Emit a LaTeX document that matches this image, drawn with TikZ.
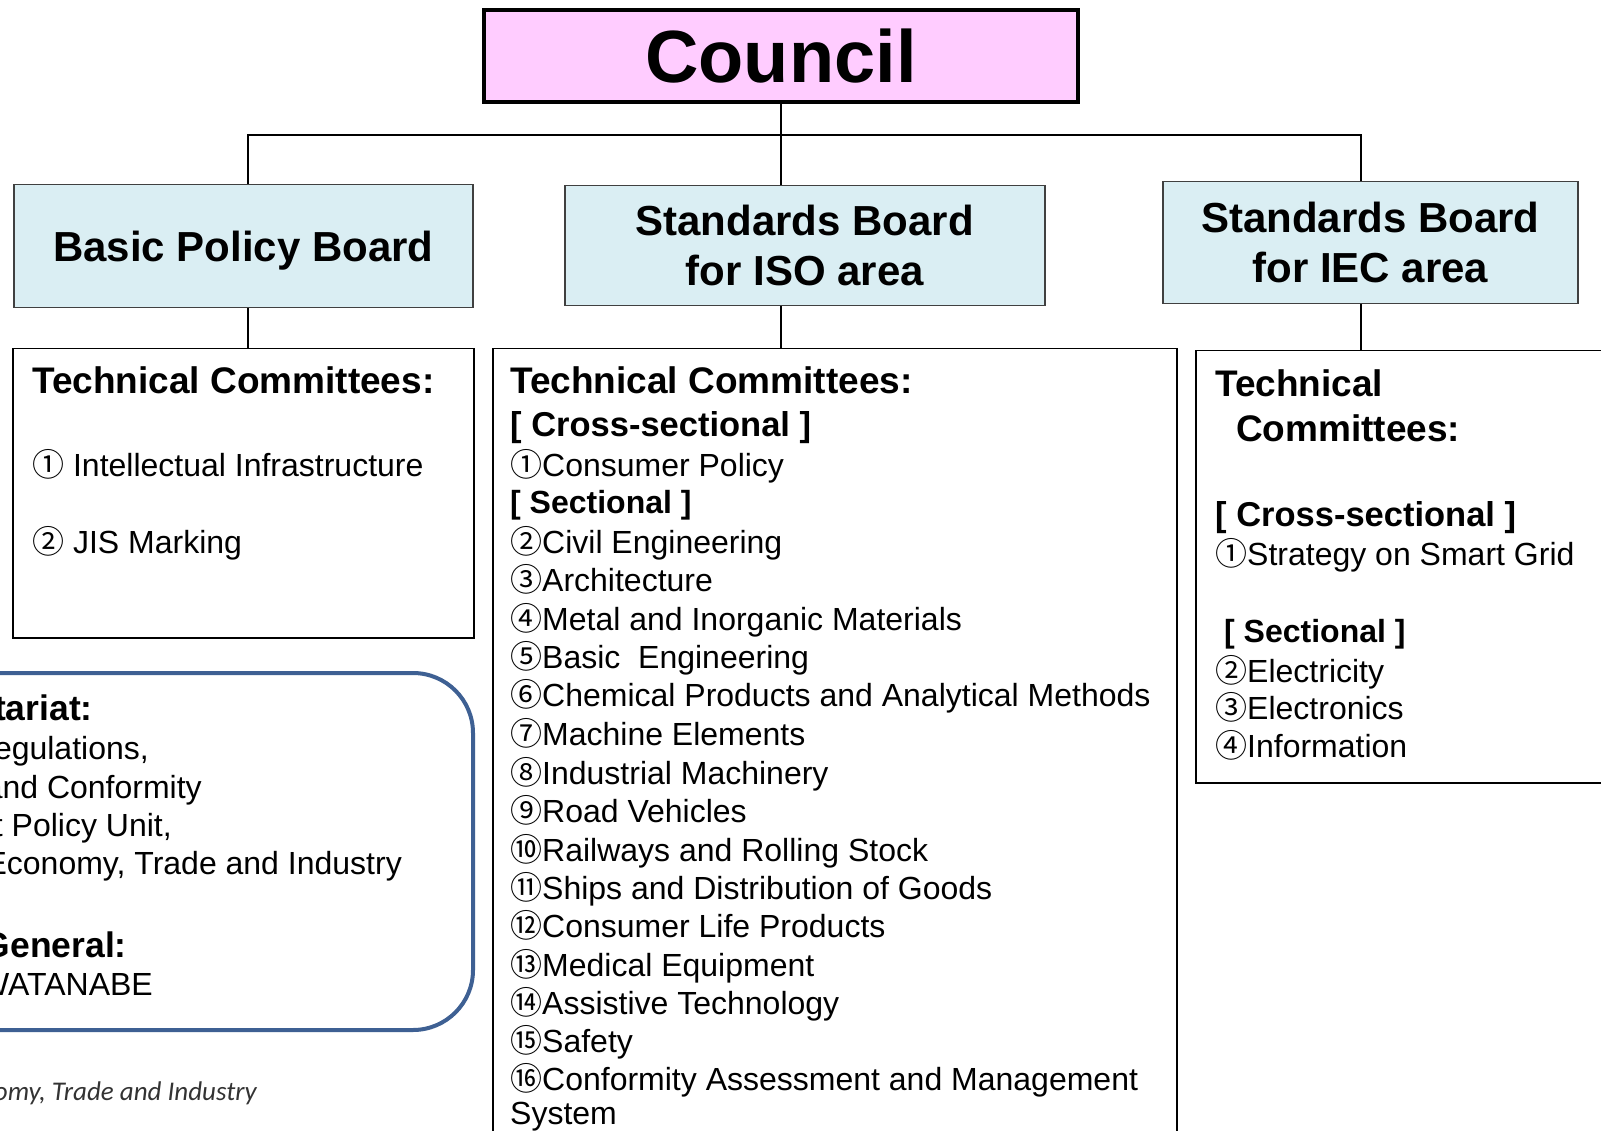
\documentclass[tikz,border=0pt]{standalone}
\usepackage{xcolor}
\usepackage{fontspec}
\setmainfont{Liberation Sans}
\newfontfamily\cjk{Noto Sans CJK JP}
\newfontfamily\logofont{Carlito}
\usepackage{tikz}

\definecolor{councilpink}{HTML}{FFCCFF}
\definecolor{boardblue}{HTML}{DAEEF3}
\definecolor{secblue}{HTML}{3E6093}
\definecolor{footgray}{HTML}{333333}
\newcommand{\circnum}[1]{{\cjk #1}}

\begin{document}
\begin{tikzpicture}[
	x=1pt,y=-1pt,
	board/.style={rectangle,anchor=north west,inner sep=0pt,draw=black!75,line width=1.5pt,fill=boardblue,align=center,font=\bfseries\fontsize{42}{50}\selectfont},
	tcbox/.style={rectangle,anchor=north west,inner sep=0pt,draw=black,line width=1.5pt},
	head/.style={anchor=base west,inner sep=0pt,font=\bfseries\fontsize{37}{44}\selectfont},
	sub/.style={anchor=base west,inner sep=0pt,font=\bfseries\fontsize{34.5}{41}\selectfont},
	subsmall/.style={anchor=base west,inner sep=0pt,font=\bfseries\fontsize{32}{38}\selectfont},
	item/.style={anchor=base west,inner sep=0pt,font=\fontsize{32}{38}\selectfont},
	secitem/.style={anchor=base east,inner sep=0pt,font=\fontsize{32}{38}\selectfont},
	sechead/.style={anchor=base east,inner sep=0pt,font=\bfseries\fontsize{35.5}{42}\selectfont},
	link/.style={line width=1.5pt}
]
	\useasboundingbox (0,0) rectangle (1601,1131);
	\clip (0,0) rectangle (1601,1131);
	\fill[white] (0,0) rectangle (1601,1131);

	\node[rectangle,anchor=north west,inner sep=0pt,minimum width=594pt,minimum height=92pt,draw=black,line width=4pt,fill=councilpink,font=\bfseries\fontsize{74}{80}\selectfont] (council) at (482,8) {Council};

	\node[board,minimum width=459pt,minimum height=123pt,text depth=0pt] (basic) at (13,184) {Basic Policy Board};
	\node[board,minimum width=480pt,minimum height=120pt] (iso) at (564,185) {Standards Board\\for ISO area};
	\node[board,minimum width=415pt,minimum height=122pt] (iec) at (1162,181) {Standards Board\\for IEC area};

	\node[tcbox,minimum width=461pt,minimum height=289pt] (tcbasic) at (12,348) {};
	\node[tcbox,minimum width=684pt,minimum height=830pt] (tciso) at (492,348) {};
	\node[tcbox,minimum width=470pt,minimum height=432pt] (tciec) at (1195,350) {};

	\coordinate (busL) at (248,135);
	\coordinate (busR) at (1361,135);
	\draw[link] (council.south) -- (iso.north -| council.south);
	\draw[link] (basic.north -| busL) -- (busL) -- (busR) -- (iec.north -| busR);
	\draw[link] (basic.south -| busL) -- (tcbasic.north -| busL);
	\draw[link] (iso.south -| council.south) -- (tciso.north -| council.south);
	\draw[link] (iec.south -| busR) -- (tciec.north -| busR);

	\node[head] (basictitle) at (32,394) {Technical Committees:};
	\node[item] (basicone) at (32,476) {\circnum{①} Intellectual Infrastructure};
	\node[item] (basictwo) at (32,553) {\circnum{②} JIS Marking};

	\node[head] (isotitle) at (510,394) {Technical Committees:};
	\node[sub] (isocross) at (510,436) {[ Cross-sectional ]};
	\node[item] (isoone) at (510,476) {\circnum{①}Consumer Policy};
	\node[subsmall] (isosect) at (510,513) {[ Sectional ]};
	\node[item] (isotwo) at (510,553) {\circnum{②}Civil Engineering};
	\node[item] (isothree) at (510,591) {\circnum{③}Architecture};
	\node[item] (isofour) at (510,630) {\circnum{④}Metal and Inorganic Materials};
	\node[item] (isofive) at (510,668) {\circnum{⑤}Basic\ \ Engineering};
	\node[item] (isosix) at (510,706) {\circnum{⑥}Chemical Products and Analytical Methods};
	\node[item] (isoseven) at (510,745) {\circnum{⑦}Machine Elements};
	\node[item] (isoeight) at (510,784) {\circnum{⑧}Industrial Machinery};
	\node[item] (isonine) at (510,822) {\circnum{⑨}Road Vehicles};
	\node[item] (isoten) at (510,861) {\circnum{⑩}Railways and Rolling Stock};
	\node[item] (isoeleven) at (510,899) {\circnum{⑪}Ships and Distribution of Goods};
	\node[item] (isotwelve) at (510,937) {\circnum{⑫}Consumer Life Products};
	\node[item] (isothirteen) at (510,976) {\circnum{⑬}Medical Equipment};
	\node[item] (isofourteen) at (510,1014) {\circnum{⑭}Assistive Technology};
	\node[item] (isofifteen) at (510,1052) {\circnum{⑮}Safety};
	\node[item] (isosixteen) at (510,1090) {\circnum{⑯}Conformity Assessment and Management};
	\node[item] (isosystem) at (510,1124) {System};

	\node[head] (iectitle) at (1215,396) {Technical};
	\node[head] (ieccomm) at (1236,441) {Committees:};
	\node[sub] (ieccross) at (1215,526) {[ Cross-sectional ]};
	\node[item] (iecone) at (1215,565) {\circnum{①}Strategy on Smart Grid};
	\node[subsmall] (iecsect) at (1224,642) {[ Sectional ]};
	\node[item] (iectwo) at (1215,682) {\circnum{②}Electricity};
	\node[item] (iecthree) at (1215,719) {\circnum{③}Electronics};
	\node[item] (iecfour) at (1215,757) {\circnum{④}Information};

	\node[rectangle,anchor=north west,inner sep=0pt,minimum width=551pt,minimum height=357pt,draw=secblue,line width=4pt,rounded corners=60pt] (secr) at (-80,671) {};
	\node[sechead] (sectitle) at (93,720) {tariat:};
	\node[secitem] (secone) at (149,759) {egulations,};
	\node[secitem] (sectwo) at (202,798) {and Conformity};
	\node[secitem] (secthree) at (172,836) {t Policy Unit,};
	\node[secitem] (secfour) at (402,874) {Economy, Trade and Industry};
	\node[sechead] (secgen) at (127,957) {General:};
	\node[secitem] (secname) at (153,995) {WATANABE};

	\node[anchor=base east,inner sep=0pt,text=footgray,font=\logofont\itshape\fontsize{27}{32}\selectfont] (footer) at (257,1100) {omy, Trade and Industry};
\end{tikzpicture}
\end{document}
